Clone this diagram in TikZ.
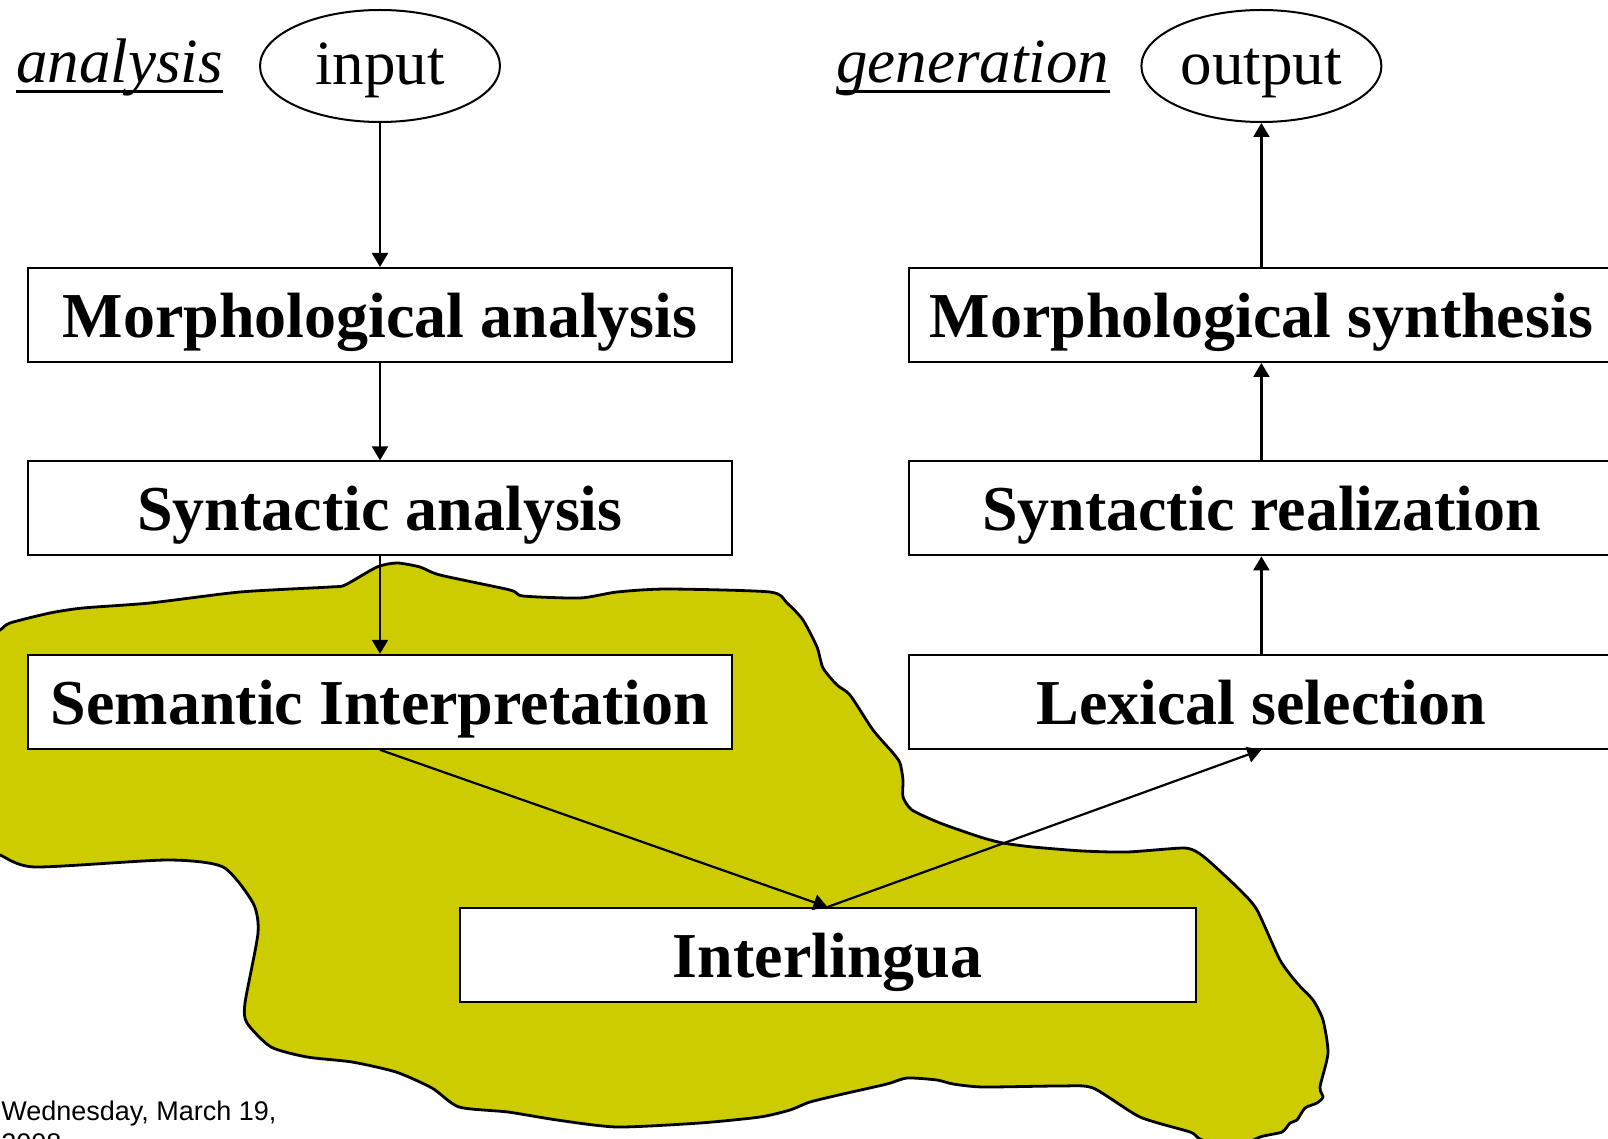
\documentclass[tikz,border=0pt]{standalone}
\usepackage{fontspec}
\setmainfont{Liberation Serif}
\newfontfamily\datefont{Liberation Sans}
\usepackage{tikz}
\usetikzlibrary{arrows.meta,positioning,shapes.geometric}
\definecolor{lingua}{RGB}{204,204,0}

\begin{document}
\begin{tikzpicture}[x=0.5pt, y=-0.5pt,
  bx/.style={draw, line width=1pt, fill=white, inner sep=2pt,
             minimum width=352pt, minimum height=47pt,
             font=\fontsize{32}{38}\selectfont\bfseries, text height=30.4pt, text depth=8pt},
  ov/.style={ellipse, draw, line width=1pt, inner sep=1pt,
             minimum width=120pt, minimum height=56pt, font=\fontsize{31.5}{36}\selectfont,
             text height=24pt, text depth=5.5pt},
  hd/.style={anchor=base west, inner sep=0pt, font=\fontsize{31.5}{36}\selectfont\itshape},
  ar/.style={-{Triangle[length=7pt,width=8pt]}, line width=1.1pt}]
\useasboundingbox (0,0) rectangle (1608,1139);
\clip (0,0) rectangle (1608,1139);
% the interlingua blob
\filldraw[fill=lingua, line width=1.4pt] plot[smooth cycle, tension=0.4] coordinates {
  (-15,636) (0,630) (10,623) (50,613) (83,608) (150,603) (240,592) (330,587) (345,585)
  (377,567) (397,563) (420,567) (440,575) (510,590) (523,596) (580,598) (617,592)
  (667,589) (770,592) (787,603) (803,620) (817,647) (823,668) (837,685) (850,695)
  (873,730) (893,753) (900,763) (903,780) (903,797) (912,810) (940,823) (980,837)
  (1003,843) (1033,847) (1083,851) (1127,852) (1183,848) (1197,852) (1210,862)
  (1240,890) (1257,910) (1280,960) (1297,983) (1313,1000) (1323,1020) (1328,1053)
  (1320,1087) (1323,1097) (1317,1103) (1305,1108) (1297,1120) (1290,1123) (1282,1132)
  (1260,1137) (1230,1150) (1200,1139) (1190,1132) (1140,1117) (1093,1088) (1060,1086)
  (983,1087) (953,1084) (937,1080) (907,1078) (887,1084) (843,1094) (810,1102)
  (790,1110) (760,1117) (700,1123) (617,1127) (557,1120) (508,1112) (459,1107)
  (432,1088) (396,1072) (352,1062) (307,1057) (271,1047) (247,1023) (245,1003)
  (258,933) (253,903) (223,867) (167,860) (35,867) (0,855) (-15,849)};

\node[bx] (morpha) at (380,315) {Morphological analysis};
\node[bx, below=48.7pt of morpha] (synta) {Syntactic analysis};
\node[bx, below=48.7pt of synta] (sema) {Semantic Interpretation};
\node[bx, right=87.7pt of morpha] (morphs) {Morphological synthesis};
\node[bx, right=87.7pt of synta] (synr) {Syntactic realization};
\node[bx, right=87.7pt of sema] (lexs) {Lexical selection};
\node[bx, minimum width=368pt] (inter) at (827.5,955) {Interlingua};
\node[ov, above=72pt of morpha] (input) {input};
\node[ov, above=72pt of morphs] (output) {output};

\node[hd] (anal) at (16,83) {analysis};
\node[hd] (gen) at (836,83) {generation};
\draw[line width=1.2pt] ([yshift=-4.3pt]anal.base west) -- ([yshift=-4.3pt]anal.base east);
\draw[line width=1.2pt] ([yshift=-4.3pt]gen.base west) -- ([yshift=-4.3pt]gen.base east);

\draw[ar] (input) -- (morpha);
\draw[ar] (morpha) -- (synta);
\draw[ar] (synta) -- (sema);
\draw[ar] (sema.south) -- (inter.north);
\draw[ar] (inter.north) -- (lexs.south);
\draw[ar] (lexs) -- (synr);
\draw[ar] (synr) -- (morphs);
\draw[ar] (morphs) -- (output);

\node[anchor=north west, inner sep=0pt, align=left,
      font=\datefont\fontsize{13.5}{16}\selectfont] (date) at (1,1101) {Wednesday, March 19,\\2008};
\end{tikzpicture}
\end{document}
